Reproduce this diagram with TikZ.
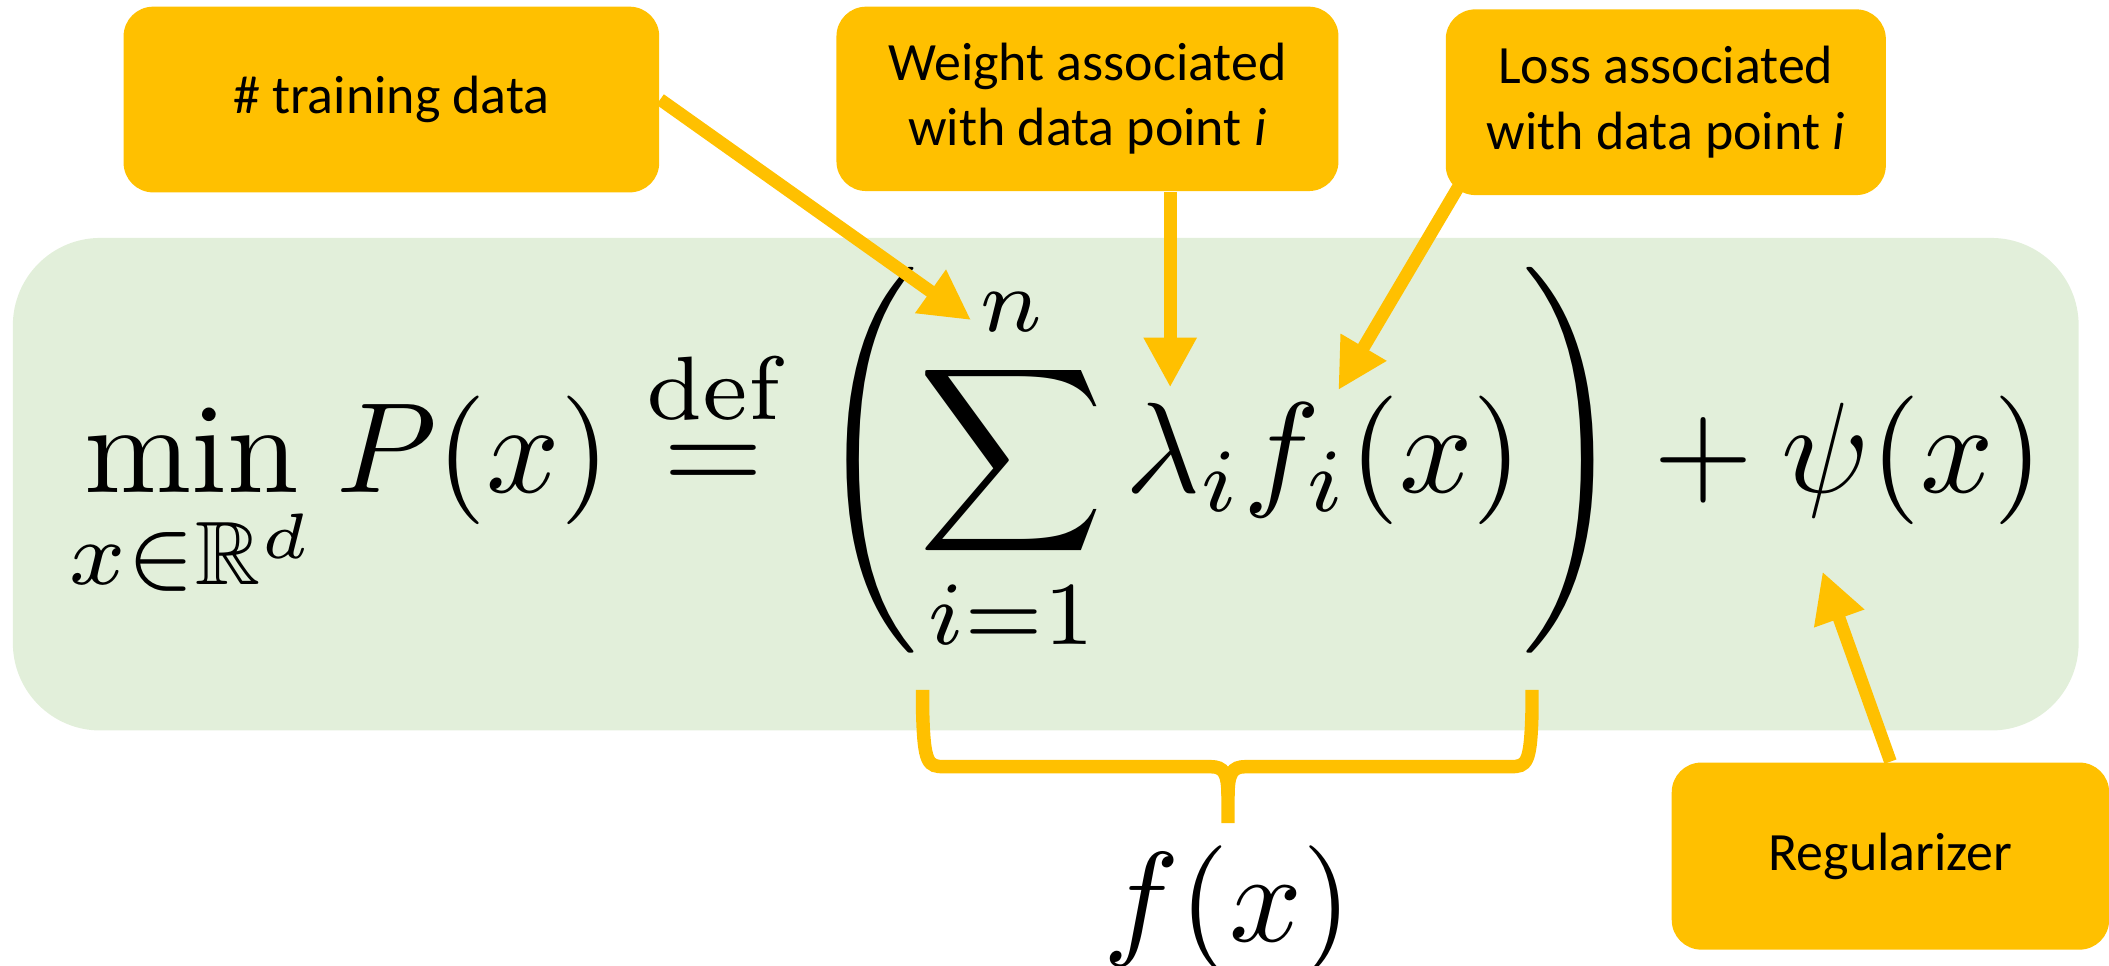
\documentclass[tikz,border=0pt]{standalone}
\usepackage{amsmath,amssymb}
\usepackage{fontspec}
\newfontfamily\boxfont{Carlito}
\usetikzlibrary{arrows.meta,calc}
\definecolor{gold}{HTML}{FFC000}
\definecolor{palegreen}{HTML}{E2EFDA}
\begin{document}
\begin{tikzpicture}[x=0.01cm,y=-0.01cm,
  callout/.style={fill=gold, rounded corners=0.22cm, inner sep=0pt, align=center,
    font=\boxfont\fontsize{11.4}{13.8}\selectfont},
  pointer/.style={draw=gold, line width=0.095cm, -{Triangle[length=0.37cm,width=0.37cm]}},
  bracestroke/.style={draw=gold, line width=0.1cm},
  mathtext/.style={inner sep=0pt}]
\useasboundingbox (0,0) rectangle (1568,718);
% green panel
\node[fill=palegreen, rounded corners=0.65cm, minimum width=15.35cm, minimum height=3.66cm, inner sep=0pt] (panel) at (777.5,360) {};
% formula
\node[mathtext, anchor=base west] (formula) at (50,366)
  {\scalebox{2.72}{$\displaystyle \min_{x\in\mathbb{R}^d} P(x) \stackrel{\mathrm{def}}{=} \left(\sum_{i=1}^{n} \lambda_i f_i(x)\right) + \psi(x)$}};
\node[mathtext, anchor=base] (fx) at (913,700) {\scalebox{2.7}{$f(x)$}};
% callouts
\node[callout, minimum width=3.98cm, minimum height=1.38cm] (box1) at (291,74) {\# training data};
\node[callout, minimum width=3.73cm, minimum height=1.37cm] (box2) at (808.5,73.5) {Weight associated\\with data point \textit{i}};
\node[callout, minimum width=3.27cm, minimum height=1.38cm] (box3) at (1238.5,76) {Loss associated\\with data point \textit{i}};
\node[callout, minimum width=3.25cm, minimum height=1.39cm] (box4) at (1405.5,636.5) {Regularizer};
% arrow targets
\coordinate (ntip) at (722,238);
\coordinate (wtip) at (870,288);
\coordinate (ltip) at (995,290);
\coordinate (rtip) at (1355,425);
\draw[pointer] (box1.east) -- (ntip);
\draw[pointer] (box2.south -| wtip) -- (wtip);
\draw[pointer] ($(box3.south west)+(12,-10)$) -- (ltip);
\draw[pointer] (box4.north) -- (rtip);
% brace
\coordinate (bl) at (686,513);
\coordinate (br) at (1139,513);
\coordinate (bm) at (913,612);
\draw[bracestroke] (bl) -- (686,530) .. controls (687,568) and (690,570) .. (702,570)
  -- (900,570) .. controls (910,570) and (913,575) .. (913,592) -- (bm);
\draw[bracestroke] (br) -- (1139,530) .. controls (1138,568) and (1135,570) .. (1123,570)
  -- (926,570) .. controls (916,570) and (913,575) .. (913,592);
\end{tikzpicture}
\end{document}
